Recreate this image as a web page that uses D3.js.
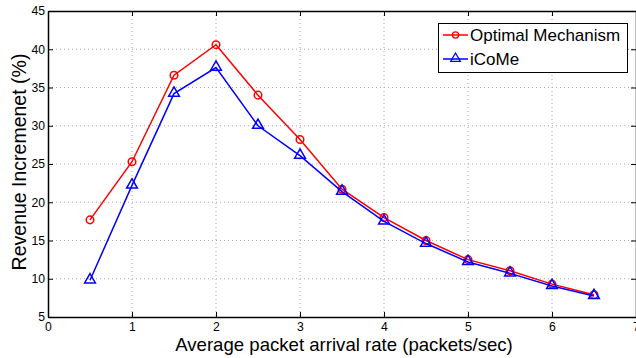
<!DOCTYPE html>
<html><head><meta charset="utf-8">
<script src="https://cdn.jsdelivr.net/npm/d3@7"></script>
<style>body{margin:0;background:#fff}svg{display:block}text{font-family:"Liberation Sans",Arial,sans-serif}</style>
</head><body>
<svg id="c" width="636" height="358"></svg>
<script>
const rates = [0.5,1,1.5,2,2.5,3,3.5,4,4.5,5,5.5,6,6.5];
const optimal = [17.7,25.3,36.6,40.6,34.0,28.2,21.7,18.0,15.0,12.5,11.05,9.3,7.9];
const icome = [9.8,22.2,34.2,37.6,30.0,26.1,21.4,17.5,14.6,12.2,10.7,9.05,7.75];
const xTicks = [0,1,2,3,4,5,6,7];
const yTicks = [5,10,15,20,25,30,35,40,45];
const seriesNames = ["Optimal Mechanism","iCoMe"];

const svg = d3.select("#c");
const L=48, R=636, T=11, B=317;
const x = d3.scaleLinear().domain([0,7]).range([L,R]);
const y = d3.scaleLinear().domain([5,45]).range([B,T]);

// grid
const g = svg.append("g");
g.selectAll(".gx").data(xTicks.slice(1,-1)).enter().append("line")
 .attr("x1",d=>x(d)).attr("x2",d=>x(d)).attr("y1",T).attr("y2",B)
 .attr("stroke","#aaa").attr("stroke-width",1).attr("stroke-dasharray","1,3");
g.selectAll(".gy").data(yTicks.slice(1,-1)).enter().append("line")
 .attr("y1",d=>y(d)).attr("y2",d=>y(d)).attr("x1",L).attr("x2",R)
 .attr("stroke","#aaa").attr("stroke-width",1).attr("stroke-dasharray","1,3");

// axes
const ax = svg.append("g").attr("transform",`translate(0,${B})`)
 .call(d3.axisBottom(x).tickValues(xTicks).tickFormat(d3.format("d")).tickSizeInner(-5).tickSizeOuter(0).tickPadding(5.5));
const ay = svg.append("g").attr("transform",`translate(${L},0)`)
 .call(d3.axisLeft(y).tickValues(yTicks).tickFormat(d3.format("d")).tickSizeInner(-5).tickSizeOuter(0).tickPadding(3));
svg.append("g").attr("transform",`translate(0,${T})`)
 .call(d3.axisTop(x).tickValues(xTicks).tickSizeInner(-5).tickSizeOuter(0)).selectAll("text").remove();
svg.append("g").attr("transform",`translate(${R},0)`)
 .call(d3.axisRight(y).tickValues(yTicks).tickSizeInner(-5).tickSizeOuter(0)).selectAll("text").remove();
svg.selectAll(".domain").attr("stroke","#000").attr("stroke-width",1.5);
svg.selectAll(".tick line").attr("stroke","#000");
svg.selectAll(".tick text").attr("font-size",12.2).attr("fill","#000");

// series
const line = d3.line().x((d,i)=>x(rates[i])).y(d=>y(d));
function drawSeries(vals,color,marker){
  svg.append("path").datum(vals).attr("d",line).attr("fill","none")
   .attr("stroke",color).attr("stroke-width",1.5);
  const sym = d3.symbol().type(marker==="circle"?d3.symbolCircle:d3.symbolTriangle).size(marker==="circle"?45:50);
  svg.selectAll(null).data(vals).enter().append("path")
   .attr("d",sym).attr("transform",(d,i)=>`translate(${x(rates[i])},${y(d)+(marker==="circle"?0:-0.5)})`)
   .attr("fill","none").attr("stroke",color).attr("stroke-width",1.5);
}
drawSeries(optimal,"#ff0000","circle");
drawSeries(icome,"#0000ff","triangle");

// axis labels
svg.append("text").attr("x",344).attr("y",351).attr("text-anchor","middle")
 .attr("font-size",18.6).text("Average packet arrival rate (packets/sec)");
svg.append("text").attr("transform","translate(26,162) rotate(-90)").attr("text-anchor","middle")
 .attr("font-size",19.5).text("Revenue Incremenet (%)");

// legend
const lg = svg.append("g");
lg.append("rect").attr("x",438.5).attr("y",23.5).attr("width",189).attr("height",49)
 .attr("fill","#fff").attr("stroke","#000").attr("stroke-width",1);
const colors=["#ff0000","#0000ff"], types=[d3.symbolCircle,d3.symbolTriangle], ly=[35,59];
seriesNames.forEach((n,i)=>{
  lg.append("line").attr("x1",443).attr("x2",468).attr("y1",ly[i]).attr("y2",ly[i])
   .attr("stroke",colors[i]).attr("stroke-width",1.5);
  lg.append("path").attr("d",d3.symbol().type(types[i]).size(i?40:30)())
   .attr("transform",`translate(455.5,${ly[i]-(i?0.5:0)})`).attr("fill","none").attr("stroke",colors[i]).attr("stroke-width",1.3);
  lg.append("text").attr("x",470).attr("y",ly[i]+6).attr("font-size",17).text(n);
});
</script>
</body></html>
